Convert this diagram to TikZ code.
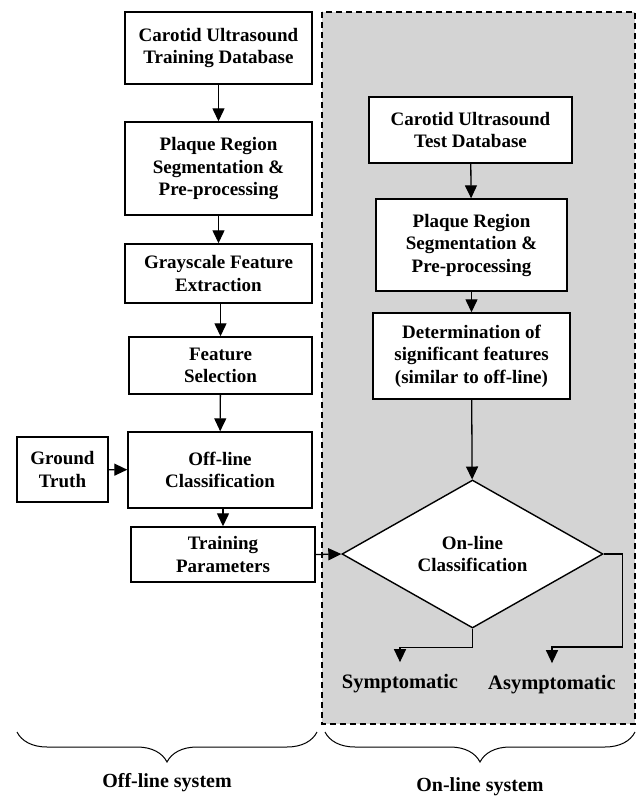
\documentclass[tikz,border=0pt]{standalone}
\usepackage{fontspec}
\setmainfont{Liberation Serif}
\usetikzlibrary{shapes.geometric,arrows.meta,decorations.pathreplacing}

\begin{document}
\begin{tikzpicture}[x=1pt,y=-1pt,
 box/.style={draw,line width=1.4pt,fill=white,align=center,inner sep=0pt,font=\fontsize{19}{22.5}\selectfont\bfseries},
 arr/.style={line width=1.3pt,-{Triangle[length=13pt,width=12pt]}},
 lbl/.style={font=\fontsize{20}{24}\selectfont\bfseries},
 brc/.style={decorate,decoration={brace,mirror,amplitude=30pt},line width=1pt}]
 \useasboundingbox (0,0) rectangle (638,796); % 画像サイズ

 \fill[black!17] (322,12) rectangle (635,724); % オンライン領域
 \draw[line width=1.2pt,dash pattern=on 6pt off 4pt] (322,12) rectangle (635,724); % 破線枠

 % オフライン側
 \node[box,minimum width=187pt,minimum height=72pt] (trdb) at (218.5,48) {Carotid Ultrasound\\Training Database}; % 学習DB
 \node[box,minimum width=187pt,minimum height=93pt] (seg) at (218.5,168.5) {Plaque Region\\Segmentation \&\\Pre-processing}; % 分割
 \node[box,minimum width=187pt,minimum height=59pt] (gfe) at (218.5,273.5) {Grayscale Feature\\Extraction}; % 特徴抽出
 \node[box,minimum width=183pt,minimum height=57pt] (fsel) at (220.5,365.5) {Feature\\Selection}; % 特徴選択
 \node[box,minimum width=184pt,minimum height=76pt] (offcls) at (220,470) {Off-line\\Classification}; % 分類
 \node[box,minimum width=91pt,minimum height=65pt] (gt) at (62.5,469.5) {Ground\\Truth}; % 正解
 \node[box,minimum width=184pt,minimum height=55pt] (tpar) at (223,554.5) {Training\\Parameters}; % パラメータ

 % オンライン側
 \node[box,minimum width=203pt,minimum height=66pt] (tsdb) at (470.5,130) {Carotid Ultrasound\\Test Database}; % テストDB
 \node[box,minimum width=191pt,minimum height=92pt] (seg2) at (471.5,245) {Plaque Region\\Segmentation \&\\Pre-processing}; % 分割
 \node[box,minimum width=197pt,minimum height=86pt] (det) at (471.5,356) {Determination of\\significant features\\(similar to off-line)}; % 有意特徴
 \node[box,diamond,minimum width=261pt,minimum height=148pt] (oncls) at (472.5,554) {On-line\\Classification}; % 判定
 \node[lbl,font=\fontsize{20.5}{24}\selectfont\bfseries] (sym) at (400,684) {Symptomatic}; % 結果1
 \node[lbl,font=\fontsize{20.5}{24}\selectfont\bfseries] (asym) at (552,685) {Asymptomatic}; % 結果2

 % 矢印
 \draw[arr] (trdb) -- (seg);
 \draw[arr] (seg) -- (gfe);
 \draw[arr] (gfe.south -| fsel.north) -- (fsel.north);
 \draw[arr] (fsel) -- (offcls);
 \draw[arr] (offcls.south -| tpar.north) -- (tpar.north);
 \draw[arr] (gt) -- (offcls);
 \draw[arr] (tpar.east) -- (oncls.west);
 \draw[arr] (tsdb) -- (seg2);
 \draw[arr] (seg2) -- (det);
 \draw[arr] (det) -- (oncls);
 \draw[arr,shorten >=9pt] (oncls.south) -- ++(0,19) -| (sym.north); % 左下
 \draw[arr,shorten >=9pt] (oncls.east) -- ++(19,0) -- ++(0,93) -| (asym.north); % 右下

 % 括弧
 \draw[brc] (17,732) -- (317,732);
 \draw[brc] (325,732) -- (635,732);
 \node[lbl] (offsys) at (167,783) {Off-line system}; % ラベル
 \node[lbl] (onsys) at (480,787) {On-line system}; % ラベル
\end{tikzpicture}
\end{document}
